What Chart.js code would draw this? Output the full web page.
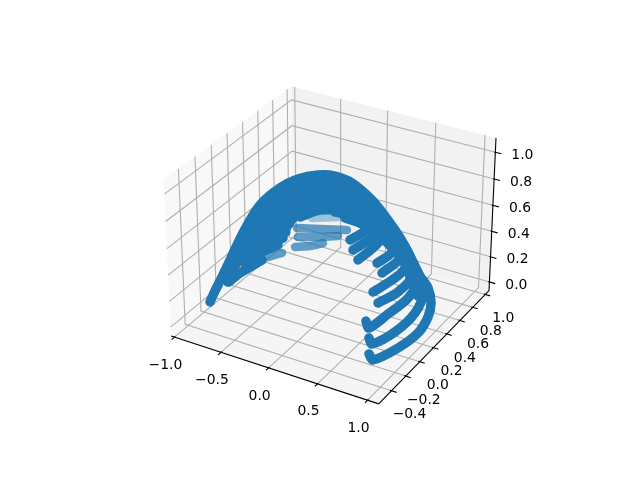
<!DOCTYPE html>
<html>
<head>
<meta charset="utf-8">
<style>
  html, body { margin: 0; padding: 0; background: #fff; }
  canvas { display: block; }
</style>
<script src="https://cdn.jsdelivr.net/npm/chart.js@4"></script>
</head>
<body>
<canvas id="chart" width="640" height="480"></canvas>
<script>
// axis limits and ticks of the 3D box
const xLim = [-1.036, 1.11];
const yLim = [-0.575, 1.06];
const zLim = [-0.07, 1.105];
const xTicks = [-1, -0.5, 0, 0.5, 1];
const yTicks = [-0.4, -0.2, 0, 0.2, 0.4, 0.6, 0.8, 1];
const zTicks = [0, 0.2, 0.4, 0.6, 0.8, 1];
const xTickLabels = ['−1.0', '−0.5', '0.0', '0.5', '1.0'];
const yTickLabels = ['−0.4', '−0.2', '0.0', '0.2', '0.4', '0.6', '0.8', '1.0'];
const zTickLabels = ['0.0', '0.2', '0.4', '0.6', '0.8', '1.0'];

// solid ribs, front one first
const ribX = [
  [0.799, 0.843, 1.006, 0.986, 1.028, 1.02, 0.963, 0.874, 0.752, 0.732, 0.581, 0.447, 0.257, 0.112, -0.02, -0.163, -0.614, -0.733, -0.801, -0.842, -0.87, -0.893, -0.908],
  [0.764, 0.8, 0.948, 0.918, 0.936, 0.844, 0.813, 0.67, 0.521, 0.366, 0.172, -0.004, -0.148, -0.593, -0.689, -0.742, -0.782, -0.811, -0.736, -0.591],
  [0.704, 0.742, 0.856, 0.831, 0.868, 0.781, 0.753, 0.614, 0.447, 0.268, 0.029, -0.13, -0.572, -0.65, -0.697, -0.738, -0.658, -0.499],
  [0.756, 0.883, 0.818, 0.752, 0.705, 0.548, 0.367, 0.199, 0.029, -0.113, -0.534, -0.601, -0.646, -0.567, -0.475],
  [0.694, 0.812, 0.74, 0.789, 0.65, 0.476, 0.29, 0.06, -0.095, -0.171, -0.213, -0.138],
  [0.72, 0.788, 0.73, 0.58, 0.422, 0.221, 0.055, -0.097, -0.147],
  [0.661, 0.714, 0.663, 0.518, 0.306, 0.073, -0.064],
  [0.51, 0.587, 0.585, 0.424, 0.227],
  [0.45, 0.528, 0.525, 0.371, 0.232],
  [0.406, 0.462, 0.465, 0.325, 0.191],
  [0.904, 0.826, 0.827, 0.705, 0.568, 0.424, 0.281]
];
const ribY = [
  [-0.283, -0.287, -0.169, 0.147, 0.228, 0.28, 0.314, 0.322, 0.347, 0.21, 0.221, 0.224, 0.207, 0.17, 0.116, 0.037, 0.361, 0.24, 0.106, -0.021, -0.11, -0.177, -0.227],
  [-0.237, -0.244, -0.133, 0.196, 0.282, 0.32, 0.184, 0.198, 0.207, 0.197, 0.158, 0.096, 0.017, 0.334, 0.224, 0.112, -0.003, -0.104, -0.035, 0.081],
  [-0.198, -0.208, -0.104, 0.216, 0.303, 0.336, 0.196, 0.205, 0.197, 0.165, 0.079, -0.006, 0.307, 0.2, 0.095, 0.009, 0.072, 0.182],
  [-0.106, -0.008, 0.301, 0.347, 0.206, 0.199, 0.17, 0.123, 0.052, -0.03, 0.284, 0.178, 0.097, 0.16, 0.221],
  [-0.091, 0.007, 0.294, 0.189, 0.198, 0.187, 0.136, 0.038, -0.053, -0.14, -0.205, -0.157],
  [-0.006, 0.15, 0.186, 0.182, 0.163, 0.094, 0.017, -0.077, -0.145],
  [0.006, 0.14, 0.18, 0.17, 0.116, 0.021, -0.066],
  [-0.048, 0.12, 0.177, 0.16, 0.085],
  [-0.036, 0.117, 0.162, 0.137, 0.079],
  [-0.017, 0.111, 0.147, 0.117, 0.065],
  [0.256, 0.277, 0.152, 0.152, 0.146, 0.121, 0.082]
];
const ribZ = [
  [0.07, 0.037, 0.103, 0.043, 0.134, 0.213, 0.298, 0.365, 0.478, 0.69, 0.801, 0.89, 0.985, 1.023, 1.029, 1.007, 0.705, 0.606, 0.456, 0.3, 0.19, 0.109, 0.045],
  [0.158, 0.125, 0.192, 0.156, 0.269, 0.382, 0.601, 0.712, 0.818, 0.901, 0.968, 0.99, 0.968, 0.653, 0.554, 0.427, 0.288, 0.161, 0.213, 0.288],
  [0.252, 0.214, 0.291, 0.241, 0.343, 0.444, 0.656, 0.757, 0.851, 0.918, 0.946, 0.923, 0.601, 0.496, 0.375, 0.276, 0.317, 0.375],
  [0.352, 0.413, 0.371, 0.478, 0.701, 0.79, 0.862, 0.901, 0.907, 0.879, 0.543, 0.433, 0.346, 0.386, 0.415],
  [0.413, 0.479, 0.411, 0.623, 0.723, 0.818, 0.862, 0.868, 0.834, 0.757, 0.69, 0.712],
  [0.518, 0.567, 0.656, 0.745, 0.818, 0.845, 0.84, 0.801, 0.734],
  [0.573, 0.601, 0.69, 0.768, 0.823, 0.834, 0.795],
  [0.59, 0.651, 0.734, 0.812, 0.829],
  [0.645, 0.684, 0.751, 0.812, 0.818],
  [0.701, 0.718, 0.768, 0.812, 0.823],
  [0.252, 0.331, 0.545, 0.623, 0.701, 0.757, 0.79]
];

// far side pieces seen through the dome, these look faded
const farX = [
  [-0.036, 0.076, 0.168],
  [-0.036, 0.132, 0.267],
  [-0.063, 0.115, 0.323],
  [0.029, 0.225],
  [-0.551, -0.449]
];
const farY = [
  [-0.17, -0.117, -0.065],
  [-0.131, -0.057, 0.006],
  [-0.108, -0.034, 0.053],
  [-0.029, 0.061],
  [0.111, 0.172]
];
const farZ = [
  [0.629, 0.634, 0.651],
  [0.684, 0.684, 0.69],
  [0.734, 0.729, 0.723],
  [0.79, 0.795],
  [0.305, 0.329]
];
const farAlpha = [0.7, 0.7, 0.7, 0.4, 0.7];

const fontStr = '13.9px "DejaVu Sans"';

// same camera as mplot3d: elev 30, azim -60, dist 10, box 4:4:3
const boxSize = [1.1905, 1.1905, 0.8929];
const camU = [0.866025, 0.5, 0];
const camV = [-0.25, 0.433013, 0.866025];
const camW = [0.433013, -0.75, 0.5];
const dot = (a, b) => a[0] * b[0] + a[1] * b[1] + a[2] * b[2];

function project(x, y, z) {
  const b = [
    ((x - xLim[0]) / (xLim[1] - xLim[0]) - 0.5) * boxSize[0],
    ((y - yLim[0]) / (yLim[1] - yLim[0]) - 0.5) * boxSize[1],
    ((z - zLim[0]) / (zLim[1] - zLim[0]) - 0.5) * boxSize[2]
  ];
  const d = 10 - dot(b, camW);
  return { x: dot(b, camU) / d, y: dot(b, camV) / d };
}

// view plane -0.095..0.09 sits in a 369.6 px square at (143.2, 57.6)
const pxPerUnit = 369.6 / 0.185;
const viewXMin = -0.095 - 143.2 / pxPerUnit;
const viewYMax = 0.09 + 57.6 / pxPerUnit;

const datasets = [];
function addLine(points, style) {
  datasets.push(Object.assign({
    data: points.map(p => project(p[0], p[1], p[2])),
    showLine: true,
    pointRadius: 0,
    borderWidth: 1.1,
    borderColor: '#b0b0b0',
    fill: false,
    clip: false
  }, style));
}

const [x0, x1] = xLim, [y0, y1] = yLim, [z0, z1] = zLim;

// panes
addLine([[x0, y0, z0], [x0, y1, z0], [x0, y1, z1], [x0, y0, z1], [x0, y0, z0]],
  { fill: 'shape', backgroundColor: 'rgba(242,242,242,0.5)', borderWidth: 0 });
addLine([[x0, y1, z0], [x1, y1, z0], [x1, y1, z1], [x0, y1, z1], [x0, y1, z0]],
  { fill: 'shape', backgroundColor: 'rgba(230,230,230,0.5)', borderWidth: 0 });
addLine([[x0, y0, z0], [x1, y0, z0], [x1, y1, z0], [x0, y1, z0], [x0, y0, z0]],
  { fill: 'shape', backgroundColor: 'rgba(236,236,236,0.5)', borderWidth: 0 });

// grid
xTicks.forEach(t => addLine([[t, y0, z0], [t, y1, z0], [t, y1, z1]]));
yTicks.forEach(t => addLine([[x1, t, z0], [x0, t, z0], [x0, t, z1]]));
zTicks.forEach(t => addLine([[x0, y0, t], [x0, y1, t], [x1, y1, t]]));

// axis lines
const black = { borderColor: '#000' };
addLine([[x0, y0, z0], [x1, y0, z0]], black);
addLine([[x1, y0, z0], [x1, y1, z0]], black);
addLine([[x1, y1, z0], [x1, y1, z1]], black);

// tick marks
xTicks.forEach(t => addLine([[t, y0 - 0.035, z0], [t, y0 + 0.012, z0]], black));
yTicks.forEach(t => addLine([[x1 + 0.05, t, z0], [x1 - 0.015, t, z0]], black));
zTicks.forEach(t => addLine([[x1 + 0.06, y1, t], [x1 - 0.012, y1, t]], black));

// scatter, far pieces first, then back to front
farX.forEach((xs, i) => {
  addLine(xs.map((v, j) => [v, farY[i][j], farZ[i][j]]), {
    borderColor: `rgba(31,119,180,${farAlpha[i]})`, borderWidth: 8.5,
    borderCapStyle: 'round', borderJoinStyle: 'round', tension: 0.2
  });
});
for (let i = ribX.length - 1; i >= 0; i--) {
  addLine(ribX[i].map((v, j) => [v, ribY[i][j], ribZ[i][j]]), {
    borderColor: '#1f77b4', borderWidth: 9.5,
    borderCapStyle: 'round', borderJoinStyle: 'round', tension: 0.3
  });
}

// chart.js paints the lowest order last
datasets.forEach((d, i) => { d.order = datasets.length - i; });

const tickText = {
  id: 'tickText',
  afterDatasetsDraw(chart) {
    const { ctx, scales } = chart;
    ctx.save();
    ctx.font = fontStr;
    ctx.fillStyle = '#000';
    ctx.textAlign = 'center';
    ctx.textBaseline = 'middle';
    const put = (p, label, dx, dy) => {
      ctx.fillText(label, scales.x.getPixelForValue(p.x) + dx, scales.y.getPixelForValue(p.y) + dy);
    };
    xTicks.forEach((t, i) => put(project(t, y0, z0), xTickLabels[i], -9, 28));
    yTicks.forEach((t, i) => put(project(x1, t, z0), yTickLabels[i], 18, 24));
    zTicks.forEach((t, i) => put(project(x1, y1, t), zTickLabels[i], 27, 3));
    ctx.restore();
  }
};

new Chart(document.getElementById('chart'), {
  type: 'scatter',
  data: { datasets },
  options: {
    responsive: false,
    animation: false,
    layout: { padding: 0 },
    plugins: { legend: { display: false }, tooltip: { enabled: false } },
    scales: {
      x: { display: false, min: viewXMin, max: viewXMin + 640 / pxPerUnit },
      y: { display: false, min: viewYMax - 480 / pxPerUnit, max: viewYMax }
    }
  },
  plugins: [tickText]
});
</script>
</body>
</html>
